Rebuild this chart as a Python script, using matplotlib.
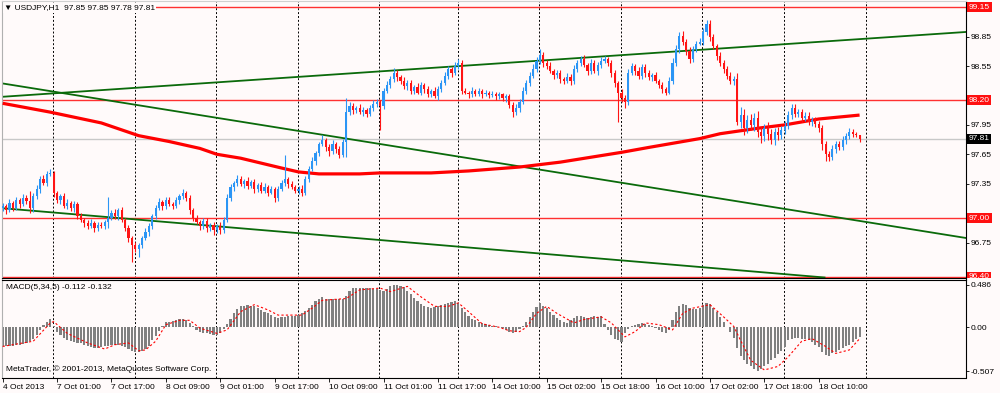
import matplotlib
matplotlib.use("Agg")
import matplotlib.pyplot as plt
from matplotlib.transforms import Bbox, TransformedBbox, blended_transform_factory
import numpy as np

# ---- values ----
first_open = 97.10
closes = [
    97.12, 97.08, 97.15, 97.10, 97.18, 97.14, 97.20, 97.17, 97.10, 97.22,
    97.30, 97.40, 97.36, 97.45, 97.46, 97.25, 97.18, 97.22, 97.12, 97.15,
    97.10, 97.14, 97.02, 96.98, 96.95, 96.92, 96.95, 96.90, 96.93, 96.92,
    96.96, 97.00, 97.05, 97.02, 97.08, 96.98, 96.90, 96.80, 96.72, 96.68,
    96.72, 96.80, 96.86, 96.92, 97.02, 97.10, 97.16, 97.12, 97.18, 97.14,
    97.12, 97.18, 97.22, 97.26, 97.20, 97.08, 97.00, 96.96, 96.92, 96.97,
    96.90, 96.93, 96.88, 96.92, 96.88, 96.98, 97.20, 97.32, 97.36, 97.40,
    97.35, 97.38, 97.33, 97.37, 97.30, 97.34, 97.28, 97.32, 97.26, 97.30,
    97.20, 97.30, 97.36, 97.40, 97.35, 97.32, 97.28, 97.30, 97.25, 97.40,
    97.50, 97.58, 97.66, 97.75, 97.80, 97.72, 97.68, 97.76, 97.70, 97.64,
    97.78, 98.08, 98.14, 98.10, 98.12, 98.08, 98.10, 98.06, 98.12, 98.16,
    98.18, 98.14, 98.30, 98.36, 98.42, 98.48, 98.44, 98.40, 98.35, 98.38,
    98.30, 98.34, 98.28, 98.36, 98.32, 98.26, 98.30, 98.24, 98.32, 98.38,
    98.45, 98.52, 98.48, 98.55, 98.58, 98.30, 98.28, 98.26, 98.30, 98.27,
    98.30, 98.26, 98.28, 98.25, 98.27, 98.24, 98.26, 98.22, 98.24, 98.15,
    98.08, 98.12, 98.18, 98.30, 98.38, 98.45, 98.52, 98.60, 98.66, 98.58,
    98.55, 98.50, 98.46, 98.48, 98.42, 98.40, 98.44, 98.40, 98.52, 98.58,
    98.62, 98.56, 98.50, 98.58, 98.50, 98.56, 98.60, 98.62, 98.58, 98.48,
    98.38, 98.28, 98.22, 98.18, 98.48, 98.55, 98.50, 98.45, 98.54, 98.48,
    98.44, 98.46, 98.40, 98.36, 98.32, 98.28, 98.40, 98.58, 98.72, 98.86,
    98.80, 98.70, 98.62, 98.72, 98.78, 98.80, 98.90, 98.98, 98.85, 98.75,
    98.65, 98.58, 98.52, 98.45, 98.40, 98.42, 97.98, 98.05, 97.92, 98.00,
    97.95, 98.02, 97.88, 97.84, 97.92, 97.86, 97.80, 97.88, 97.85, 97.90,
    97.94, 98.05, 98.12, 98.06, 98.08, 98.02, 98.04, 97.98, 98.00, 97.96,
    97.92, 97.75, 97.65, 97.62, 97.70, 97.76, 97.72, 97.80, 97.84, 97.88,
    97.86, 97.85, 97.81,
]
# wick lengths in pips above / below the candle body
wick_up = [
    3, 2, 4, 2, 3, 2, 4, 3, 11, 3, 4, 3, 4, 3, 4, 2, 3, 2, 3, 4,
    2, 3, 2, 3, 2, 3, 4, 2, 3, 3, 2, 21, 3, 4, 2, 3, 2, 3, 2, 4,
    3, 2, 4, 3, 2, 3, 4, 2, 3, 3, 2, 3, 2, 4, 2, 3, 2, 3, 2, 3,
    3, 2, 3, 2, 4, 3, 4, 3, 2, 4, 3, 2, 4, 2, 3, 2, 3, 4, 2, 3,
    2, 3, 3, 24, 2, 3, 2, 3, 4, 3, 3, 4, 2, 3, 5, 2, 3, 4, 2, 3,
    3, 14, 4, 3, 2, 4, 3, 2, 3, 4, 3, 2, 3, 4, 3, 5, 3, 2, 4, 3,
    3, 2, 4, 3, 2, 3, 2, 4, 3, 3, 4, 3, 2, 4, 4, 3, 3, 2, 4, 2,
    3, 2, 3, 2, 3, 2, 3, 2, 3, 2, 3, 4, 3, 4, 3, 4, 5, 4, 6, 3,
    3, 4, 2, 3, 3, 2, 4, 3, 4, 3, 3, 4, 2, 4, 3, 3, 4, 3, 2, 3,
    3, 2, 4, 3, 4, 3, 2, 4, 3, 3, 3, 2, 3, 2, 3, 2, 4, 5, 4, 4,
    5, 3, 4, 3, 3, 4, 4, 4, 4, 3, 3, 4, 3, 3, 4, 3, 6, 8, 6, 5,
    6, 5, 7, 5, 4, 6, 5, 4, 5, 4, 5, 4, 4, 4, 3, 3, 4, 4, 3, 3,
    3, 3, 4, 3, 4, 3, 3, 4, 3, 4, 3, 2, 0,
]
wick_dn = [
    3, 4, 2, 3, 2, 4, 2, 3, 5, 4, 3, 4, 2, 3, 2, 4, 3, 4, 2, 3,
    3, 4, 3, 2, 4, 3, 2, 4, 3, 2, 3, 6, 2, 3, 4, 2, 3, 4, 17, 3,
    8, 3, 2, 4, 3, 3, 2, 4, 3, 2, 3, 2, 4, 3, 3, 4, 3, 2, 4, 3,
    4, 3, 5, 3, 4, 3, 2, 3, 4, 3, 2, 4, 3, 2, 4, 3, 2, 3, 4, 2,
    4, 3, 2, 3, 4, 2, 3, 4, 3, 2, 3, 2, 4, 3, 2, 4, 5, 3, 4, 3,
    2, 16, 3, 4, 3, 2, 4, 3, 2, 3, 3, 24, 3, 2, 3, 3, 4, 3, 3, 4,
    3, 4, 2, 3, 4, 3, 3, 2, 4, 3, 2, 3, 4, 2, 3, 3, 2, 4, 3, 3,
    3, 4, 2, 3, 2, 4, 3, 3, 4, 3, 5, 3, 4, 2, 3, 3, 2, 3, 3, 4,
    3, 2, 4, 3, 4, 3, 2, 4, 3, 3, 3, 2, 4, 3, 2, 4, 3, 2, 3, 4,
    4, 30, 4, 6, 3, 2, 4, 3, 3, 4, 3, 4, 2, 3, 4, 3, 2, 3, 3, 4,
    3, 4, 4, 3, 3, 2, 3, 3, 4, 3, 4, 3, 4, 3, 3, 4, 3, 6, 7, 5,
    5, 6, 5, 7, 5, 6, 4, 6, 5, 4, 4, 3, 4, 3, 3, 4, 3, 3, 4, 3,
    4, 6, 7, 4, 3, 4, 3, 3, 4, 3, 3, 2, 3,
]

ma_bar = [0, 14, 29, 40, 49, 58, 63, 70, 76, 82, 87, 93, 105, 111, 126,
          137, 152, 164, 182, 190, 205, 211, 223, 230, 240, 252]
ma_price = [98.17, 98.08, 97.97, 97.84, 97.78, 97.71, 97.65, 97.61, 97.56,
            97.51, 97.47, 97.45, 97.45, 97.46, 97.46, 97.48, 97.52, 97.57,
            97.67, 97.72, 97.81, 97.86, 97.92, 97.95, 98.01, 98.05]

macd = [
    -0.22, -0.22, -0.21, -0.21, -0.20, -0.20, -0.19, -0.18, -0.16, -0.14,
    -0.09, -0.03, 0.03, 0.06, 0.10, 0.01, -0.05, -0.09, -0.12, -0.15,
    -0.16, -0.17, -0.18, -0.18, -0.20, -0.22, -0.23, -0.24, -0.24, -0.23,
    -0.22, -0.21, -0.20, -0.20, -0.20, -0.21, -0.23, -0.25, -0.27, -0.28,
    -0.28, -0.27, -0.25, -0.21, -0.15, -0.10, -0.04, 0.02, 0.06, 0.06,
    0.07, 0.08, 0.09, 0.10, 0.08, 0.05, 0.01, -0.03, -0.05, -0.06,
    -0.07, -0.08, -0.09, -0.09, -0.06, -0.02, 0.04, 0.10, 0.16, 0.21,
    0.24, 0.25, 0.26, 0.25, 0.24, 0.22, 0.20, 0.18, 0.16, 0.14,
    0.12, 0.11, 0.12, 0.12, 0.13, 0.13, 0.13, 0.14, 0.16, 0.19,
    0.22, 0.26, 0.30, 0.33, 0.35, 0.33, 0.32, 0.32, 0.32, 0.32,
    0.33, 0.36, 0.42, 0.45, 0.45, 0.45, 0.45, 0.45, 0.45, 0.44,
    0.44, 0.43, 0.42, 0.44, 0.47, 0.49, 0.49, 0.48, 0.46, 0.42,
    0.38, 0.34, 0.30, 0.27, 0.25, 0.23, 0.22, 0.23, 0.24, 0.26,
    0.27, 0.28, 0.29, 0.30, 0.28, 0.22, 0.17, 0.13, 0.10, 0.08,
    0.06, 0.05, 0.04, 0.03, 0.02, 0.01, 0.00, -0.01, -0.03, -0.05,
    -0.07, -0.05, -0.02, 0.02, 0.06, 0.12, 0.17, 0.23, 0.28, 0.25,
    0.22, 0.18, 0.14, 0.11, 0.08, 0.06, 0.05, 0.08, 0.11, 0.13,
    0.13, 0.12, 0.11, 0.12, 0.13, 0.12, 0.13, 0.04, -0.03, -0.09,
    -0.13, -0.15, -0.17, -0.07, -0.02, 0.01, 0.03, 0.04, 0.05, 0.04,
    0.03, 0.02, -0.01, -0.03, -0.05, -0.07, -0.03, 0.08, 0.18, 0.25,
    0.27, 0.26, 0.22, 0.21, 0.21, 0.22, 0.26, 0.28, 0.27, 0.22,
    0.17, 0.12, 0.06, 0.00, -0.05, -0.12, -0.24, -0.33, -0.38, -0.42,
    -0.45, -0.48, -0.50, -0.48, -0.45, -0.42, -0.38, -0.35, -0.31, -0.27,
    -0.23, -0.15, -0.13, -0.12, -0.12, -0.13, -0.13, -0.15, -0.17, -0.20,
    -0.23, -0.28, -0.32, -0.33, -0.30, -0.28, -0.26, -0.24, -0.22, -0.20,
    -0.17, -0.14, -0.112,
]
signal_bar = [0, 9, 14, 15, 19, 25, 30, 33, 37, 40, 42, 45, 48, 52, 55, 58, 63,
              66, 70, 74, 78, 81, 88, 91, 94, 101, 105, 111, 114, 119, 123, 127,
              131, 134, 137, 141, 146, 149, 152, 154, 157, 160, 163, 168, 171,
              176, 179, 183, 186, 189, 193, 197, 200, 203, 208, 212, 215, 217,
              220, 224, 228, 231, 235, 238, 242, 245, 249, 252]
signal_val = [-0.22, -0.16, 0.05, 0.065, -0.07, -0.18, -0.25, -0.20, -0.18,
              -0.27, -0.26, -0.16, 0.03, 0.08, 0.08, -0.01, -0.07, -0.03, 0.18,
              0.26, 0.20, 0.14, 0.14, 0.22, 0.31, 0.33, 0.43, 0.45, 0.41, 0.47,
              0.35, 0.24, 0.24, 0.28, 0.18, 0.04, 0.0, -0.04, -0.05, 0.0, 0.16,
              0.24, 0.16, 0.05, 0.09, 0.12, 0.05, -0.11, -0.05, 0.05, 0.03,
              -0.03, 0.16, 0.22, 0.26, 0.12, 0.01, -0.15, -0.38, -0.49, -0.45,
              -0.34, -0.16, -0.13, -0.22, -0.30, -0.26, -0.132]

time_bars = [0, 16, 32, 48, 64, 80, 96, 112, 128, 144, 160, 176, 192, 208, 224, 240]
time_labels = ["4 Oct 2013", "7 Oct 01:00", "7 Oct 17:00", "8 Oct 09:00",
               "9 Oct 01:00", "9 Oct 17:00", "10 Oct 09:00", "11 Oct 01:00",
               "11 Oct 17:00", "14 Oct 10:00", "15 Oct 02:00", "15 Oct 18:00",
               "16 Oct 10:00", "17 Oct 02:00", "17 Oct 18:00", "18 Oct 10:00"]
day_bars = [15, 39, 63, 87, 111, 134, 158, 182, 206, 230, 254]

price_ticks = [96.45, 96.75, 97.05, 97.35, 97.65, 97.95, 98.25, 98.55, 98.85, 99.15]
level_prices = [99.15, 98.20, 97.00, 96.40]
# trend lines as two (bar, price) anchors
trend_lines = [((-0.8, 98.235), (283.3, 98.898)),
               ((-0.8, 98.377), (283.3, 96.796)),
               ((-0.8, 97.102), (190.4, 96.543))]
macd_ticks = [0.486, 0.0, -0.507]
macd_tick_labels = ["0.486", "0.00", "-0.507"]

# ---- styling ----
BG = "#fffafa"
BULL = "#2b95f5"
BEAR = "#ff1414"
plt.rcParams["font.family"] = ["Liberation Sans", "DejaVu Sans"]
plt.rcParams["font.size"] = 6

W, H = 1000, 393
fig = plt.figure(figsize=(W / 100, H / 100), dpi=100, facecolor=BG)


def fig_rect(x0, y0, x1, y1):
    # pixel box (top-left origin) -> figure fraction rect
    return [x0 / W, 1 - y1 / H, (x1 - x0) / W, (y1 - y0) / H]


ax = fig.add_axes(fig_rect(2, 0.5, 966, 277.5))
axm = fig.add_axes(fig_rect(2, 279.5, 966, 377.5))

for a in (ax, axm):
    a.set_facecolor(BG)
    a.set_xlim(-0.2, 283.3)
    for s in a.spines.values():
        s.set_color("black")
        s.set_linewidth(0.8)
    a.spines["left"].set_color("#b0b0b0")
    a.yaxis.tick_right()
    a.tick_params(axis="y", length=2, pad=1.5, labelsize=6, width=0.6)
    for b in day_bars:
        a.axvline(b - 0.2, color="black", lw=0.7, ls=(0, (2, 2)), zorder=1)

ax.spines["top"].set_color("#d0d0d0")
ax.set_ylim(96.393, 99.219)


def tick_text(p):
    # scale labels that sit under a level box are hidden, as on the terminal
    if any(abs(p - q) < 0.08 for q in level_prices):
        return ""
    return f"{p:.2f}"


ax.set_yticks(price_ticks, [tick_text(p) for p in price_ticks])
ax.set_xticks([])

# horizontal levels and trend lines
for p in level_prices:
    ax.axhline(p, color="#ff3030", lw=1.0, zorder=2)
for (x1, y1), (x2, y2) in trend_lines:
    ax.axline((x1, y1), (x2, y2), color="#0a6a0a", lw=1.3, zorder=2)

last_close = closes[-1]
ax.axhline(last_close, color="#c8c8c8", lw=1.0, zorder=1.5)

# moving average
ax.plot(ma_bar, ma_price, color="red", lw=2.3, zorder=3, solid_capstyle="butt")

# candles
c = np.array(closes)
o = np.array([first_open] + closes[:-1])
top = np.maximum(o, c)
bot = np.minimum(o, c)
hi = top + np.array(wick_up) / 100
lo = bot - np.array(wick_dn) / 100
idx = np.arange(len(c))
cols = [BULL if cc >= oo else BEAR for oo, cc in zip(o, c)]
ax.vlines(idx, lo, hi, colors=cols, lw=0.8, zorder=4)
ax.bar(idx, np.maximum(top - bot, 0.006), bottom=bot, width=0.62,
       color=cols, linewidth=0, zorder=5)

# price boxes on the right scale, clipped to the main window
clip = TransformedBbox(Bbox([[966 / W, 1 - 277.5 / H], [1, 1]]), fig.transFigure)
btr = blended_transform_factory(ax.transAxes, ax.transData)


def price_box(price, text, face):
    t = ax.text(1.003, price, text, transform=btr, ha="left", va="center",
                color="white", fontsize=6, zorder=10,
                bbox=dict(boxstyle="square,pad=0.18", fc=face, ec="none"))
    t.set_clip_path(None)
    t.set_clip_box(clip)
    t.set_clip_on(True)


for p in level_prices:
    price_box(p, f"{p:.2f}", "#ff1010")
price_box(last_close, f"{last_close:.2f}", "black")

# header with last bar OHLC
fig.text(4 / W, 1 - 8 / H,
         f"\u25bc USDJPY,H1  {o[-1]:.2f} {hi[-1]:.2f} {lo[-1]:.2f} {c[-1]:.2f}",
         ha="left", va="center", fontsize=6,
         bbox=dict(boxstyle="square,pad=0.15", fc=BG, ec="none"), zorder=10)

# MACD window
axm.set_ylim(-0.577, 0.549)
axm.bar(idx, macd, width=0.62, color="#808080", linewidth=0, zorder=2)
axm.plot(signal_bar, signal_val, color="red", lw=0.8, ls=(0, (2, 2)), zorder=3)
axm.set_yticks(macd_ticks, macd_tick_labels)
axm.set_xticks(time_bars, time_labels)
axm.tick_params(axis="x", length=3, pad=2, labelsize=6, width=0.6)
for lbl in axm.get_xticklabels():
    lbl.set_horizontalalignment("left")

axm.text(0.004, 0.92, f"MACD(5,34,5) {macd[-1]:.3f} {signal_val[-1]:.3f}",
         transform=axm.transAxes, ha="left", va="center", fontsize=6)
axm.text(0.004, 0.085, "MetaTrader, \u00a9 2001-2013, MetaQuotes Software Corp.",
         transform=axm.transAxes, ha="left", va="center", fontsize=6)

fig.savefig("out.png", dpi=100, facecolor=BG)
